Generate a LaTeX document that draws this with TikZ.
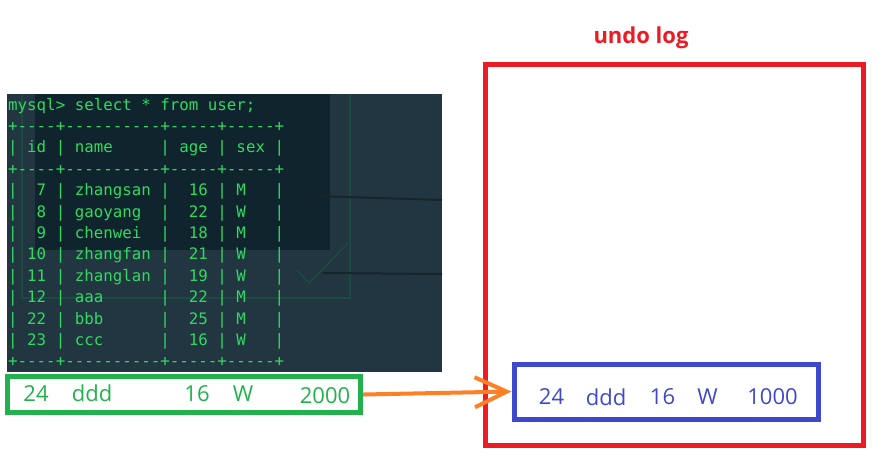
\documentclass[tikz,border=0pt]{standalone}
\usepackage{fontspec}
\setmainfont{Open Sans}
\setmonofont{DejaVu Sans Mono}
\usetikzlibrary{arrows.meta}

\definecolor{termbg}{HTML}{213640}
\definecolor{termdark}{HTML}{0F242C}
\definecolor{termghost}{HTML}{1B4A40}
\definecolor{termline}{HTML}{17252B}
\definecolor{termgreen}{HTML}{30DA60}
\definecolor{rowgreen}{HTML}{22B14C}
\definecolor{rowblue}{HTML}{3F48CC}
\definecolor{logred}{HTML}{ED1C24}
\definecolor{updorange}{HTML}{FF7F27}

\tikzset{
  rowbox/.style={draw, line width=5pt, inner sep=0pt},
  cell/.style={inner sep=0pt, font=\fontsize{22}{26}\selectfont},
  termtext/.style={anchor=base west, inner sep=0pt, text=termgreen,
    font=\ttfamily\fontsize{15.8}{19}\selectfont},
}

\begin{document}
\begin{tikzpicture}[x=1pt, y=-1pt]
  \useasboundingbox (0,0) rectangle (882,456);

  % Terminal screenshot with the old query
  \fill[termbg] (7,94) rectangle (442,372);
  \fill[termdark] (35,94) rectangle (330,250);
  \draw[termghost, line width=1.5pt] (22,94) -- (22,298) -- (350,298) -- (350,94);
  \draw[termghost, line width=1.5pt] (297,270) -- (309,283) -- (348,243);
  \draw[termline, line width=2pt] (315,196) -- (442,200);
  \draw[termline, line width=2pt] (323,273) -- (442,274);
  \foreach \txt [count=\i from 0] in {
      mysql>~select~*~from~user;,
      +----+----------+-----+-----+,
      |~id~|~name~~~~~|~age~|~sex~|,
      +----+----------+-----+-----+,
      |~~7~|~zhangsan~|~~16~|~M~~~|,
      |~~8~|~gaoyang~~|~~22~|~W~~~|,
      |~~9~|~chenwei~~|~~18~|~M~~~|,
      |~10~|~zhangfan~|~~21~|~W~~~|,
      |~11~|~zhanglan~|~~19~|~W~~~|,
      |~12~|~aaa~~~~~~|~~22~|~M~~~|,
      |~22~|~bbb~~~~~~|~~25~|~M~~~|,
      |~23~|~ccc~~~~~~|~~16~|~W~~~|,
      +----+----------+-----+-----+}
    \node[termtext] (line\i) at (8,{110+21.4*\i}) {\txt};

  % New row being written
  \node[rowbox, draw=rowgreen, minimum width=353pt, minimum height=36pt] (newrow) at (184,394.5) {};
  \foreach \x/\t [count=\i] in {36/24, 92/ddd, 197/16, 243/W}
    \node[cell, text=rowgreen] (new\i) at (\x,393.5) {\t};
  \node[cell, text=rowgreen] (new5) at (325,396) {2000};

  % Undo log with the old version of the row
  \node[text=logred, font=\bfseries\fontsize{22}{26}\selectfont] (title) at (641,38) {undo log};
  \node[rowbox, draw=logred, minimum width=378pt, minimum height=381pt] (undolog) at (674,255) {};
  \node[rowbox, draw=rowblue, minimum width=304pt, minimum height=55pt] (undorow) at (666,391.5) {};
  \foreach \x/\t [count=\i] in {551.5/24, 606/ddd, 662.5/16, 707.5/W, 772.5/1000}
    \node[cell, text=rowblue] (old\i) at (\x,397) {\t};

  % copy to undo log
  \draw[updorange, line width=4pt, -{Straight Barb[length=32pt, width=30pt]}]
    (newrow.east) -- (undorow.west);
\end{tikzpicture}
\end{document}
